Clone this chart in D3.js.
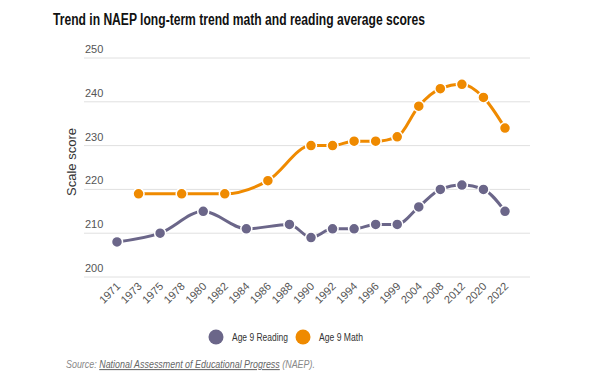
<!doctype html>
<html>
  <head>
    <script src="https://cdnjs.cloudflare.com/ajax/libs/d3/7.8.5/d3.min.js"></script>
  <style>
    body { margin: 0; background: #fff; }
    text { font-family: "Liberation Sans", Arial, sans-serif; }
  </style>
  </head>
  <body>
    <svg width="600" height="381"></svg>
    <script>
      var years = ["1971","1973","1975","1978","1980","1982","1984","1986","1988","1990","1992","1994","1996","1999","2004","2008","2012","2020","2022"];
      // reading skips 1973/1978/1982/1986, math skips 1971/1975/1980/1984/1988
      var reading = [208,null,210,null,215,null,211,null,212,209,211,211,212,212,216,220,221,220,215];
      var math    = [null,219,null,219,null,219,null,222,null,230,230,231,231,232,239,243,244,241,234];
      var yTicks = [200,210,220,230,240,250];
      var seriesNames = ["Age 9 Reading","Age 9 Math"];
      var colors = ["#6b6689","#ef8a00"];

      var svg = d3.select("svg");

      var xScale = d3.scalePoint().domain(years).range([117, 505]);
      var yScale = d3.scaleLinear().domain([200,250]).range([277, 58]);

      svg.append("text")
        .attr("x", 53).attr("y", 25)
        .attr("textLength", 372).attr("lengthAdjust", "spacingAndGlyphs")
        .style("font-weight", "bold")
        .style("font-size", "16px")
        .style("fill", "#111")
        .text("Trend in NAEP long-term trend math and reading average scores");

      // grid + y labels
      var grid = svg.append("g");
      grid.selectAll("line").data(yTicks).enter().append("line")
        .attr("x1", 84).attr("x2", 530)
        .attr("y1", d => yScale(d)).attr("y2", d => yScale(d))
        .attr("stroke", "#e0e0e0").attr("stroke-width", 1);
      grid.selectAll("text").data(yTicks).enter().append("text")
        .attr("x", 85).attr("y", d => yScale(d) - 5)
        .style("font-size", "11px").style("fill", "#555")
        .text(d => d);

      svg.append("text")
        .attr("transform", "translate(76,162) rotate(-90)")
        .attr("text-anchor", "middle")
        .style("font-size", "13px").style("fill", "#333")
        .text("Scale score");

      // x labels
      svg.append("g").selectAll("text").data(years).enter().append("text")
        .attr("transform", d => "translate(" + (xScale(d) + 4) + ",287) rotate(-45)")
        .attr("text-anchor", "end")
        .style("font-size", "11px").style("fill", "#555")
        .text(d => d);

      var line = d3.line()
        .x(d => xScale(d.year))
        .y(d => yScale(d.value))
        .curve(d3.curveMonotoneX);

      [reading, math].forEach(function(vals, i) {
        var pts = years.map((y, j) => ({year: y, value: vals[j]})).filter(d => d.value != null);
        svg.append("path")
          .attr("d", line(pts))
          .attr("fill", "none")
          .attr("stroke", colors[i])
          .attr("stroke-width", 3);
        svg.append("g").selectAll("circle").data(pts).enter().append("circle")
          .attr("cx", d => xScale(d.year))
          .attr("cy", d => yScale(d.value))
          .attr("r", 5.5)
          .attr("fill", colors[i])
          .attr("stroke", "#fff")
          .attr("stroke-width", 1.5);
      });

      // legend
      var legend = svg.append("g");
      var legX = [216, 303];
      var legW = [56, 44];
      seriesNames.forEach(function(name, i) {
        legend.append("circle")
          .attr("cx", legX[i]).attr("cy", 337).attr("r", 7.5)
          .attr("fill", colors[i]);
        legend.append("text")
          .attr("x", legX[i] + 16).attr("y", 341)
          .attr("textLength", legW[i]).attr("lengthAdjust", "spacingAndGlyphs")
          .style("font-size", "11px").style("fill", "#333")
          .text(name);
      });

      var src = svg.append("text")
        .attr("transform", "translate(66,368) scale(0.85,1)")
        .style("font-size", "10.5px").style("font-style", "italic").style("fill", "#888");
      src.append("tspan").text("Source: ");
      src.append("tspan").style("text-decoration", "underline").style("fill", "#666")
        .text("National Assessment of Educational Progress");
      src.append("tspan").text(" (NAEP).");
    </script>
  </body>
</html>
